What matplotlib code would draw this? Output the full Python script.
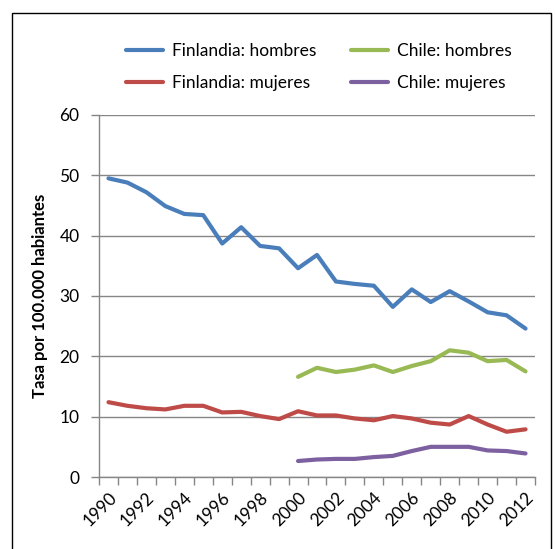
import matplotlib
matplotlib.use("Agg")
import matplotlib.pyplot as plt
from matplotlib.patches import Rectangle
import numpy as np

years = list(range(1990, 2013))
fin_h = [49.5, 48.8, 47.2, 44.9, 43.6, 43.4, 38.7, 41.4, 38.3, 37.9, 34.6, 36.8,
         32.4, 32.0, 31.7, 28.2, 31.1, 29.0, 30.8, 29.1, 27.3, 26.8, 24.6]
fin_m = [12.4, 11.8, 11.4, 11.2, 11.8, 11.8, 10.7, 10.8, 10.1, 9.6, 10.9, 10.2,
         10.2, 9.7, 9.4, 10.1, 9.7, 9.0, 8.7, 10.1, 8.7, 7.5, 7.9]
chile_years = list(range(2000, 2013))
chi_h = [16.6, 18.1, 17.4, 17.8, 18.5, 17.4, 18.4, 19.2, 21.0, 20.6, 19.2, 19.4, 17.5]
chi_m = [2.65, 2.9, 3.0, 3.0, 3.3, 3.5, 4.3, 5.0, 5.0, 5.0, 4.4, 4.3, 3.9]
labels = ["Finlandia: hombres", "Finlandia: mujeres", "Chile: hombres", "Chile: mujeres"]
colors = ["#4A7EBB", "#BE4B48", "#98B954", "#7D60A0"]
y_label = "Tasa por 100.000 habiantes"

plt.rcParams['font.family'] = ['Lato', 'DejaVu Sans']

W, H = 556, 549
fig = plt.figure(figsize=(W / 100, H / 100), dpi=100)
ax = fig.add_axes([99 / W, 1 - 477 / H, (535 - 99) / W, (477 - 115) / H])

xf = np.arange(len(years))
xc = np.array([years.index(y) for y in chile_years])
lw = 3.0
l1, = ax.plot(xf, fin_h, color=colors[0], lw=lw, solid_capstyle='round', solid_joinstyle='round')
l2, = ax.plot(xf, fin_m, color=colors[1], lw=lw, solid_capstyle='round', solid_joinstyle='round')
l3, = ax.plot(xc, chi_h, color=colors[2], lw=lw, solid_capstyle='round', solid_joinstyle='round')
l4, = ax.plot(xc, chi_m, color=colors[3], lw=lw, solid_capstyle='round', solid_joinstyle='round')

gc = "#868686"
fs = 12.5
ax.set_ylim(0, 60)
ax.set_yticks(range(0, 61, 10))
ax.yaxis.grid(True, color=gc, lw=1)
ax.set_axisbelow(True)
ax.set_xlim(-0.5, len(years) - 0.5)
ax.set_xticks(xf[::2])
ax.set_xticklabels([str(y) for y in years[::2]], rotation=45, ha='right',
                   rotation_mode='anchor', fontsize=fs)
ax.set_xticks(np.arange(-0.5, len(years)), minor=True)
ax.tick_params(axis='x', which='major', length=0, pad=9)
ax.tick_params(axis='x', which='minor', length=6, color=gc, width=1)
ax.tick_params(axis='y', length=6, color=gc, width=1, labelsize=fs, pad=8)
for s in ['top', 'right']:
    ax.spines[s].set_visible(False)
for s in ['left', 'bottom']:
    ax.spines[s].set_color(gc)
    ax.spines[s].set_linewidth(1)
ax.set_ylabel(y_label, fontsize=12, fontweight='bold', labelpad=8)

fig.legend([l1, l2, l3, l4], labels, ncol=2, loc='upper left',
           bbox_to_anchor=(110 / W, 1 - 27 / H), frameon=False, fontsize=fs,
           handlelength=2.15, columnspacing=2.0, labelspacing=0.95, handletextpad=0.5)

fig.patches.append(Rectangle((12 / W, -0.02), (551 - 12) / W, 1 - 13 / H + 0.02,
                             transform=fig.transFigure, fill=False, ec='black', lw=1))

fig.savefig("out.png", dpi=100)
